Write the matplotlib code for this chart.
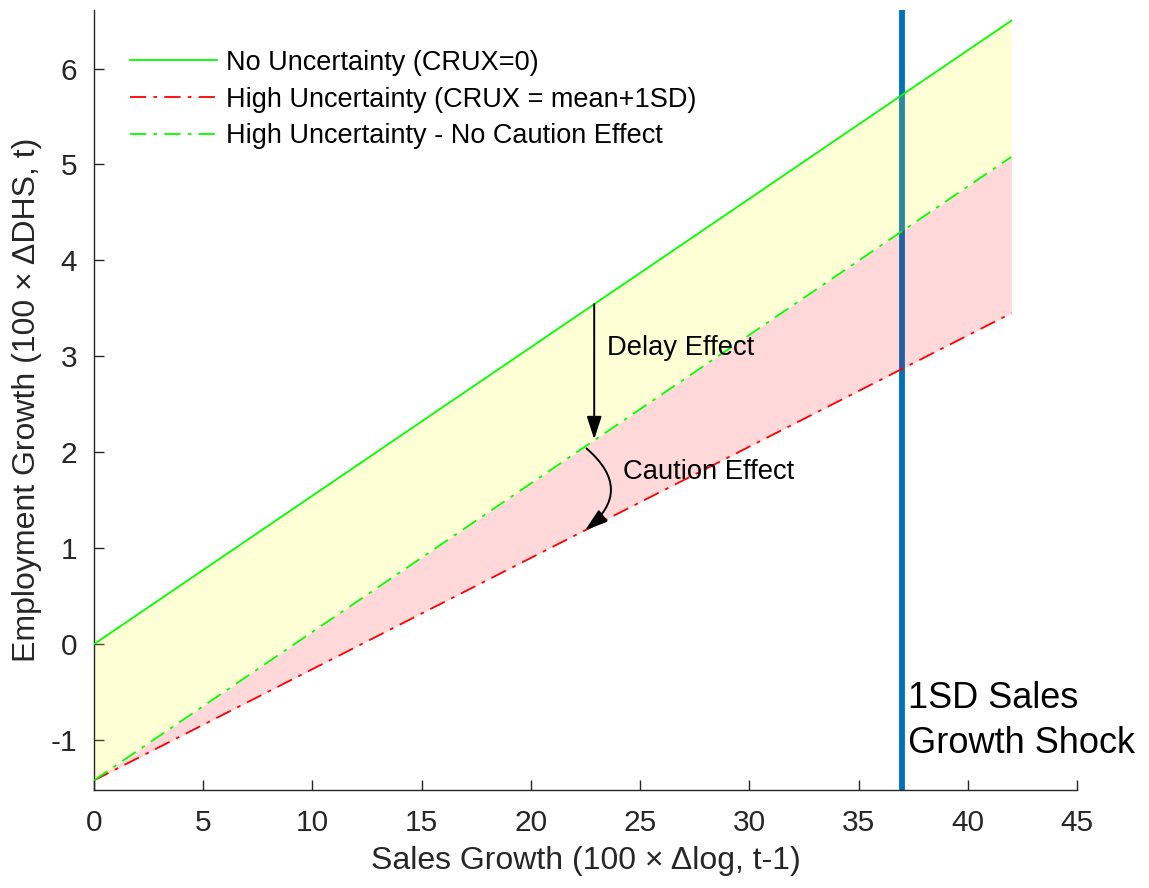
import numpy as np
import matplotlib
matplotlib.use("Agg")
import matplotlib.pyplot as plt

plt.rcParams['font.family'] = ['Liberation Sans', 'DejaVu Sans']
plt.rcParams['axes.unicode_minus'] = False

# Sales growth grid (100 x dlog, t-1) and predicted employment growth
sales_growth = [0, 42]
no_uncertainty = [0.00, 6.50]            # CRUX = 0
high_uncertainty = [-1.42, 3.45]         # CRUX = mean + 1SD
high_unc_no_caution = [-1.42, 5.08]      # high uncertainty, no caution effect

shock_x = 37.0                           # 1SD sales growth shock
effect_x = 22.9                          # where the delay / caution arrows sit

legend_labels = ['No Uncertainty (CRUX=0)',
                 'High Uncertainty (CRUX = mean+1SD)',
                 'High Uncertainty - No Caution Effect']

x = np.array(sales_growth, dtype=float)
y0 = np.array(no_uncertainty)
y1 = np.array(high_uncertainty)
y2 = np.array(high_unc_no_caution)

fig = plt.figure(figsize=(11.49, 8.88), dpi=100)
ax = fig.add_axes([0.0818, 0.1104, 0.8555, 0.8783])

dark = '#262626'

ax.axvline(shock_x, color='#0072BD', lw=4.2, zorder=1)

l0, = ax.plot(x, y0, color='#00FF00', lw=1.3, ls='-', zorder=3)
l1, = ax.plot(x, y1, color='#FF0000', lw=1.3, ls=(0, (9, 4, 2, 4)), zorder=3)
l2, = ax.plot(x, y2, color='#00FF00', lw=1.3, ls=(0, (9, 4, 2, 4)), zorder=3)

ax.fill_between(x, y2, y0, color=(1, 1, 0), alpha=0.16, lw=0, zorder=2)
ax.fill_between(x, y1, y2, color=(1, 0, 0), alpha=0.15, lw=0, zorder=2)

def at(series, xv):
    return float(np.interp(xv, x, series))

head = '-|>,head_length=1.4,head_width=0.45'

# Delay effect: drop from no-uncertainty line to the no-caution line
ax.annotate('', xy=(effect_x, at(y2, effect_x) + 0.01),
            xytext=(effect_x, at(y0, effect_x)),
            arrowprops=dict(arrowstyle=head, color='black', lw=1.4,
                            shrinkA=0, shrinkB=0),
            zorder=4)
ax.text(effect_x + 0.6, 3.09, 'Delay Effect', fontsize=19.7, va='center',
        ha='left', color='black')

# Caution effect: curved arrow from the no-caution line to the high-uncertainty line
cx = effect_x - 0.35
ax.annotate('', xy=(cx - 0.07, at(y1, cx - 0.07)),
            xytext=(cx, at(y2, cx) - 0.03),
            arrowprops=dict(arrowstyle=head, color='black', lw=1.4,
                            shrinkA=0, shrinkB=0,
                            connectionstyle='arc3,rad=-0.6'),
            zorder=4)
ax.text(24.2, 1.79, 'Caution Effect', fontsize=19.7, va='center',
        ha='left', color='black')

ax.text(shock_x + 0.25, -0.80, '1SD Sales\nGrowth Shock', fontsize=26,
        va='center', ha='left', color='black', linespacing=1.38)

ax.set_xlim(0, 45)
ax.set_ylim(-1.52, 6.61)
ax.set_xticks(np.arange(0, 46, 5))
ax.set_yticks(np.arange(-1, 7, 1))

for side in ('top', 'right'):
    ax.spines[side].set_visible(False)
for side in ('left', 'bottom'):
    ax.spines[side].set_color(dark)
    ax.spines[side].set_linewidth(1.0)
ax.tick_params(direction='in', length=7, width=1.0, colors=dark,
               labelsize=21.5)
ax.tick_params(axis='x', pad=14)
ax.tick_params(axis='y', pad=12)

ax.set_xlabel('Sales Growth (100 \u00d7 \u0394log, t-1)',
              fontsize=23, color=dark, labelpad=6)
ax.set_ylabel('Employment Growth (100 \u00d7 \u0394DHS, t)',
              fontsize=23, color=dark, labelpad=6)

leg = ax.legend([l0, l1, l2], legend_labels, loc='upper left',
                bbox_to_anchor=(0.02, 0.97), frameon=False, fontsize=19.5,
                handlelength=3.2, handletextpad=0.35, labelspacing=0.4,
                borderaxespad=0.2)

fig.savefig('out.png', dpi=100)
